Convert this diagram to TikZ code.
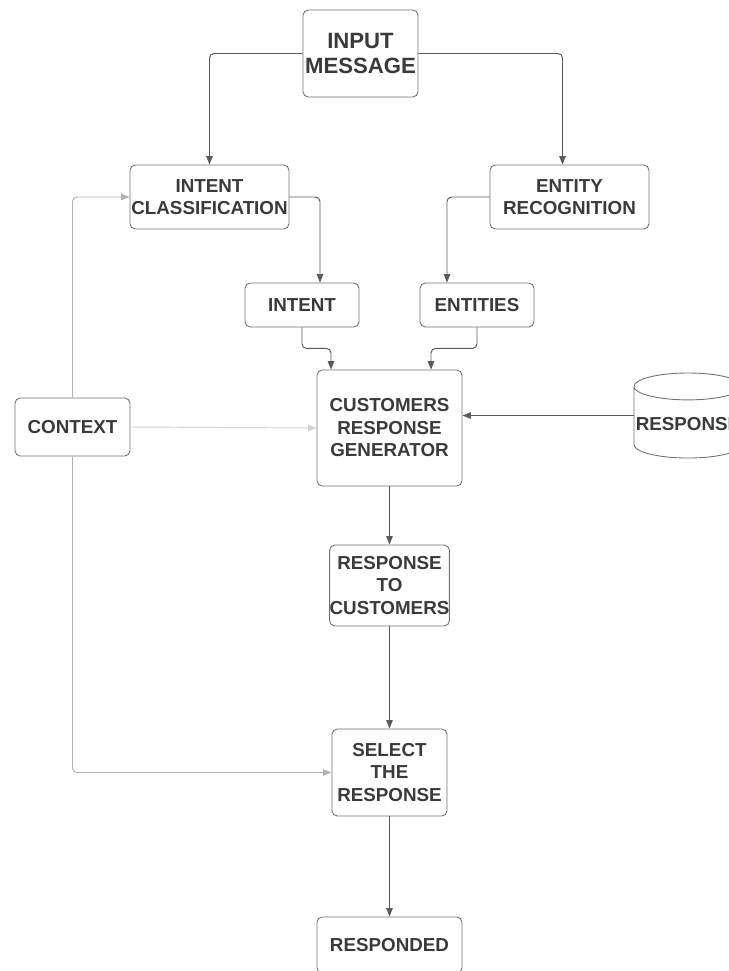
\documentclass[tikz,border=0pt]{standalone}
\usepackage{fontspec}
\setmainfont{Liberation Sans}
\usepackage{tikz}
\usetikzlibrary{calc,arrows.meta,shapes.geometric}
\definecolor{flowtext}{HTML}{3A3A3A}
\definecolor{flowline}{HTML}{5A5A5A}
\definecolor{flowedge}{HTML}{707070}

\tikzset{
  box/.style={draw=flowedge, line width=0.5pt, rounded corners=3pt,
    inner sep=0pt, align=center, text=flowtext,
    font=\fontsize{10.7}{12.8}\selectfont\bfseries},
  link/.style={draw=flowline, line width=0.55pt, rounded corners=0.9mm,
    -{Triangle[length=1.7mm,width=1.3mm]}},
  faint/.style={link, draw=gray!60},
  fainter/.style={link, draw=gray!35}
}

\begin{document}
\begin{tikzpicture}[x=0.2mm,y=-0.2mm]
  \useasboundingbox (0,0) rectangle (728,971);

  \node[box, minimum width=23mm, minimum height=17.4mm,
    font=\fontsize{12.6}{14.7}\selectfont\bfseries] (input) at (360.5,53.5) {INPUT\\MESSAGE};
  \node[box, minimum width=31.8mm, minimum height=12.8mm] (intcls) at (209.5,197) {INTENT\\CLASSIFICATION};
  \node[box, minimum width=31.8mm, minimum height=12.8mm] (entrec) at (569.5,197) {ENTITY\\RECOGNITION};
  \node[box, minimum width=22.8mm, minimum height=8.8mm] (intent) at (302,305) {INTENT};
  \node[box, minimum width=22.8mm, minimum height=8.8mm] (entities) at (477,305) {ENTITIES};
  \node[box, minimum width=29mm, minimum height=23.2mm] (crg) at (389.5,428) {CUSTOMERS\\RESPONSE\\GENERATOR};
  \node[box, minimum width=23mm, minimum height=11.6mm] (context) at (72.5,427) {CONTEXT};
  \node[box, rounded corners=0pt, shape=cylinder, shape border rotate=90, aspect=0.25,
    minimum width=21.6mm, minimum height=17mm, inner sep=0.3mm,
    anchor=shape center] (resp) at (688,415.5) {RESPONSE};
  \node[box, minimum width=23mm, minimum height=16.2mm] (rtc) at (389.5,585.5) {RESPONSE\\TO\\CUSTOMERS};
  \node[box, minimum width=23mm, minimum height=17.4mm] (select) at (389.5,772.5) {SELECT\\THE\\RESPONSE};
  \node[box, minimum width=29mm, minimum height=11.2mm] (responded) at (389.5,945) {RESPONDED};

  % split of the message
  \draw[link] (input.west) -| (intcls.north);
  \draw[link] (input.east) -| ($(entrec.north)+(-7,0)$);
  \draw[link] (intcls.east) -| ($(intent.north)+(18,0)$);
  \draw[link] (entrec.west) -| ($(entities.north)+(-30,0)$);
  \draw[link] (intent.south) -- ++(0,21) -| ($(crg.north)+(-58.5,0)$);
  \draw[link] (entities.south) -- ++(0,21) -| ($(crg.north)+(41.5,0)$);

  % context loop
  \draw[faint] (context.north) |- (intcls.west);
  \draw[faint] (context.south) |- (select.west);
  \draw[fainter] (context.east) -- (crg.west);
  \draw[link] (resp.shape center -| resp.west) -- (resp.shape center -| crg.east);

  % main chain
  \draw[link] (crg.south) -- (rtc.north);
  \draw[link] (rtc.south) -- (select.north);
  \draw[link] (select.south) -- (responded.north);
\end{tikzpicture}
\end{document}
